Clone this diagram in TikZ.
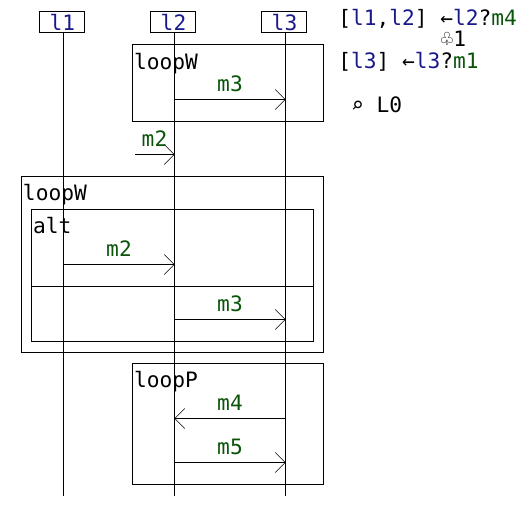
\documentclass[tikz,border=0pt]{standalone}
\usepackage{fontspec}
\setmainfont{DejaVu Sans Mono}
\usetikzlibrary{arrows.meta}
\definecolor{lname}{RGB}{25,25,140}
\definecolor{mname}{RGB}{10,85,10}
\tikzset{
  x=1pt,y=-1pt,
  every node/.style={inner sep=0pt,outer sep=0pt,font=\fontsize{21.2}{24}\selectfont},
  life/.style={draw=black,line width=0.8pt,minimum width=45,minimum height=21,fill=white},
  lifeline/.style={line width=0.8pt},
  frame/.style={draw=black,line width=0.8pt},
  msg/.style={line width=0.8pt,-{Straight Barb[length=10pt,width=20pt,line width=0.5pt,round=false]}},
  fr/.style={anchor=base west},
  mlab/.style={anchor=base,text=mname},
  ltxt/.style={anchor=base,text=lname},
}
\begin{document}
\begin{tikzpicture}
\useasboundingbox (0,0) rectangle (530,506);
% frames
\draw[frame] (132.5,44.5) rectangle (323.5,121.5);
\draw[frame] (21.5,176.5) rectangle (323.5,352);
\draw[frame] (31.5,209.5) rectangle (313.5,341.5);
\draw[frame] (31.5,286.5) -- (313.5,286.5);
\draw[frame] (132.5,363.5) rectangle (323.5,484.5);
% lifelines
\node[life] (l1) at (62,22) {};
\node[life] (l2) at (173,22) {};
\node[life] (l3) at (284,22) {};
\coordinate (e1) at (63.5,496);
\coordinate (e2) at (174.5,496);
\coordinate (e3) at (285.5,496);
\draw[lifeline] (63.5,32.5) -- (e1);
\draw[lifeline] (174.5,32.5) -- (e2);
\draw[lifeline] (285.5,32.5) -- (e3);
\node[ltxt] at (62.5,30.5) {l1};
\node[ltxt] at (173.5,30.5) {l2};
\node[ltxt] at (284.5,30.5) {l3};
% frame labels
\node[fr] at (134,69) {loopW};
\node[fr] at (23,200.7) {loopW};
\node[fr] at (33,233.7) {alt};
\node[fr] at (134,387.7) {loopP};
% messages
\coordinate (a1) at (174.5,99.5); \coordinate (a2) at (285.5,99.5);
\draw[msg] (a1) -- (a2);
\node[mlab] at (230,91) {m3};
\coordinate (b1) at (135,154.5); \coordinate (b2) at (174.5,154.5);
\draw[msg] (b1) -- (b2);
\node[mlab] at (154.5,146) {m2};
\coordinate (c1) at (63.5,264.5); \coordinate (c2) at (174.5,264.5);
\draw[msg] (c1) -- (c2);
\node[mlab] at (119,256) {m2};
\coordinate (d1) at (174.5,319.5); \coordinate (d2) at (285.5,319.5);
\draw[msg] (d1) -- (d2);
\node[mlab] at (230,311) {m3};
\coordinate (f1) at (285.5,418.5); \coordinate (f2) at (174.5,418.5);
\draw[msg] (f1) -- (f2);
\node[mlab] at (230,410) {m4};
\coordinate (g1) at (174.5,462.5); \coordinate (g2) at (285.5,462.5);
\draw[msg] (g1) -- (g2);
\node[mlab] at (230,454) {m5};
% annotations
\node[anchor=base west] at (338.3,25) {[\textcolor{lname}{l1},\textcolor{lname}{l2}] ←\textcolor{lname}{l2}?\textcolor{mname}{m4}};
\node[anchor=base west] at (440.5,46) {♧1};
\node[anchor=base west] at (338.3,68) {[\textcolor{lname}{l3}] ←\textcolor{lname}{l3}?\textcolor{mname}{m1}};
\node[anchor=base west] at (351,112.5) {⌕ L0};
\end{tikzpicture}
\end{document}
